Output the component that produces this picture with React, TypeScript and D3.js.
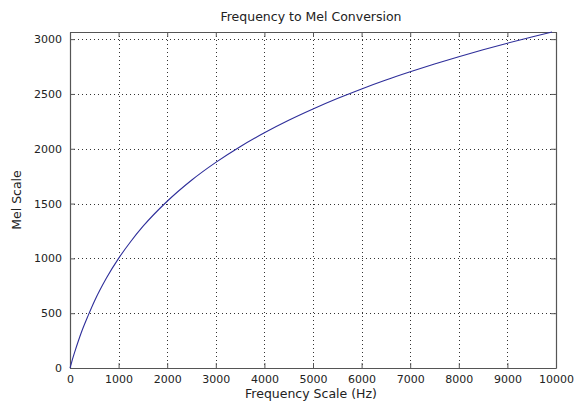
import { useEffect, useRef } from "react";
import * as d3 from "d3";

// values (Hz -> mel)
const freqs = [0, 25, 50, 100, 175, 250, 375, 500, 750, 1000, 1250, 1500, 2000, 2500, 3000, 3500, 4000, 4500, 5000, 5500, 6000, 6500, 7000, 7500, 8000, 8500, 9000, 9500, 9920];
const mels = [0, 39, 78, 150, 251, 344, 480, 607, 821, 1000, 1154, 1291, 1521, 1713, 1876, 2019, 2146, 2260, 2363, 2458, 2546, 2627, 2702, 2773, 2840, 2903, 2963, 3019, 3065];
const xTicks = [0, 1000, 2000, 3000, 4000, 5000, 6000, 7000, 8000, 9000, 10000];
const yTicks = [0, 500, 1000, 1500, 2000, 2500, 3000];

export default function App() {
  const svgRef = useRef<SVGSVGElement>(null);
  const width = 576;
  const height = 401;

  useEffect(() => {
    d3.select(svgRef.current).selectAll("*").remove();
    const svg = d3.select(svgRef.current).attr("width", width).attr("height", height);

    const margin = { top: 32, right: 20, bottom: 33, left: 70 };
    const innerWidth = width - margin.left - margin.right;
    const innerHeight = height - margin.top - margin.bottom;

    const x = d3.scaleLinear().domain([0, 10000]).range([0, innerWidth]);
    const y = d3.scaleLinear().domain([0, 3065]).range([innerHeight, 0]);

    svg.append("rect").attr("width", width).attr("height", height).attr("fill", "#fff");

    const g = svg.append("g").attr("transform", `translate(${margin.left},${margin.top})`);
    const font = "DejaVu Sans, Verdana, sans-serif";

    // grid
    g.append("g")
      .selectAll("line")
      .data(xTicks.slice(1, -1))
      .join("line")
      .attr("x1", d => Math.round(x(d)) + 0.5)
      .attr("x2", d => Math.round(x(d)) + 0.5)
      .attr("y1", 0)
      .attr("y2", innerHeight)
      .attr("stroke", "#333")
      .attr("stroke-dasharray", "1,3");
    g.append("g")
      .selectAll("line")
      .data(yTicks.slice(1))
      .join("line")
      .attr("x1", 0)
      .attr("x2", innerWidth)
      .attr("y1", d => Math.round(y(d)) + 0.5)
      .attr("y2", d => Math.round(y(d)) + 0.5)
      .attr("stroke", "#333")
      .attr("stroke-dasharray", "1,3");

    const tickLen = 5;
    const axisColor = "#555";
    const fmt = d3.format("d");

    const xAxis = d3.axisBottom(x).tickValues(xTicks).tickFormat(fmt).tickSizeInner(-tickLen).tickSizeOuter(0).tickPadding(7);
    const yAxis = d3.axisLeft(y).tickValues(yTicks).tickFormat(fmt).tickSizeInner(-tickLen).tickSizeOuter(0).tickPadding(8);

    const gx = g.append("g").attr("transform", `translate(0,${innerHeight})`).call(xAxis);
    const gy = g.append("g").call(yAxis);
    const gxTop = g.append("g").call(d3.axisTop(x).tickValues(xTicks).tickSizeInner(-tickLen).tickSizeOuter(0).tickFormat(() => ""));
    const gyRight = g.append("g").attr("transform", `translate(${innerWidth},0)`)
      .call(d3.axisRight(y).tickValues(yTicks).tickSizeInner(-tickLen).tickSizeOuter(0).tickFormat(() => ""));

    [gx, gy, gxTop, gyRight].forEach(a => {
      a.select(".domain").attr("stroke", axisColor).attr("stroke-width", 1.2);
      a.selectAll(".tick line").attr("stroke", axisColor);
      a.selectAll(".tick text").attr("fill", "#222").attr("font-family", font).attr("font-size", 11);
    });

    const line = d3.line<number>()
      .x((_, i) => x(freqs[i]))
      .y(d => y(d))
      .curve(d3.curveMonotoneX);

    g.append("path")
      .datum(mels)
      .attr("fill", "none")
      .attr("stroke", "#2e2e9a")
      .attr("stroke-width", 1.1)
      .attr("d", line);

    svg.append("text")
      .attr("x", margin.left + innerWidth / 2 - 2)
      .attr("y", 21)
      .attr("text-anchor", "middle")
      .attr("font-family", font)
      .attr("font-size", 12.5)
      .attr("fill", "#222")
      .text("Frequency to Mel Conversion");

    svg.append("text")
      .attr("x", margin.left + innerWidth / 2 - 2)
      .attr("y", 398)
      .attr("text-anchor", "middle")
      .attr("font-family", font)
      .attr("font-size", 12.5)
      .attr("fill", "#222")
      .text("Frequency Scale (Hz)");

    svg.append("text")
      .attr("transform", `translate(21,${margin.top + innerHeight / 2}) rotate(-90)`)
      .attr("text-anchor", "middle")
      .attr("font-family", font)
      .attr("font-size", 12.5)
      .attr("fill", "#222")
      .text("Mel Scale");
  }, []);

  return (
    <div style={{ position: "absolute", left: 0, top: 0 }}>
      <svg ref={svgRef} style={{ display: "block" }}></svg>
    </div>
  );
}
